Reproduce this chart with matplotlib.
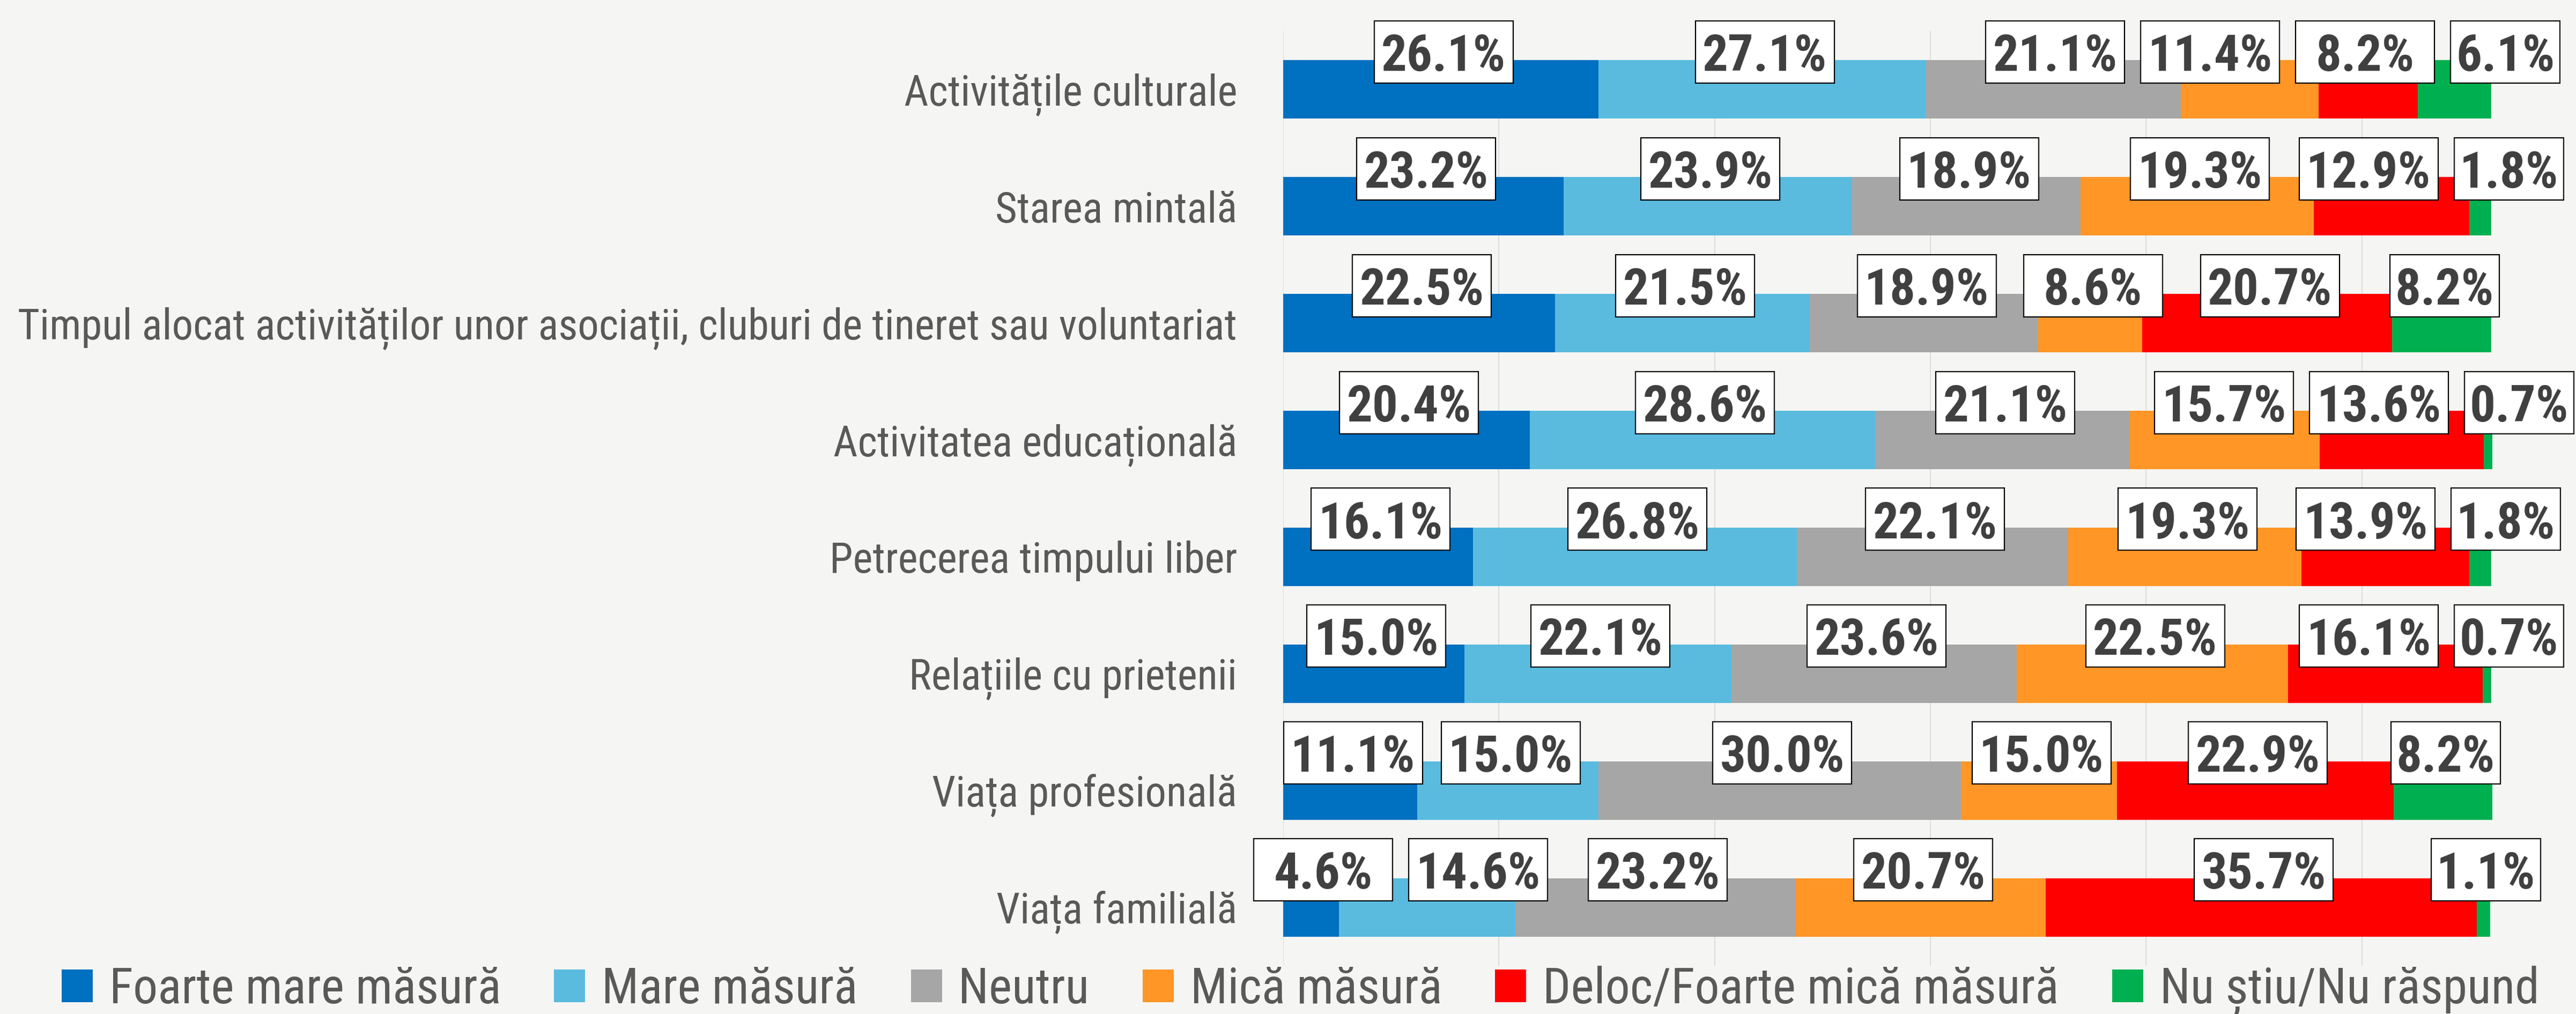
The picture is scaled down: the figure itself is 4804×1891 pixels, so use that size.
import numpy as np
import matplotlib
matplotlib.use("Agg")
import matplotlib.pyplot as plt
from matplotlib.patches import Rectangle, Patch
from matplotlib import font_manager as fm

# ---------------- data ----------------
categories = [
    "Activitățile culturale",
    "Starea mintală",
    "Timpul alocat activităților unor asociații, cluburi de tineret sau voluntariat",
    "Activitatea educațională",
    "Petrecerea timpului liber",
    "Relațiile cu prietenii",
    "Viața profesională",
    "Viața familială",
]
series_names = ["Foarte mare măsură", "Mare măsură", "Neutru", "Mică măsură",
                "Deloc/Foarte mică măsură", "Nu știu/Nu răspund"]

# bar lengths (share of respondents, %), as drawn
foarte_mare = [26.1, 23.2, 22.5, 20.4, 15.7, 15.0, 11.1, 4.6]
mare        = [27.1, 23.9, 21.1, 28.6, 26.8, 22.1, 15.0, 14.6]
neutru      = [21.1, 18.9, 18.9, 21.1, 22.5, 23.6, 30.0, 23.2]
mica        = [11.4, 19.3, 8.6, 15.7, 19.3, 22.5, 12.9, 20.7]
deloc       = [8.2, 12.9, 20.7, 13.6, 13.9, 16.1, 22.9, 35.7]
nu_stiu     = [6.1, 1.8, 8.2, 0.7, 1.8, 0.7, 8.2, 1.1]

# data-label texts as printed on the chart
lbl_foarte_mare = ["26.1%", "23.2%", "22.5%", "20.4%", "16.1%", "15.0%", "11.1%", "4.6%"]
lbl_mare        = ["27.1%", "23.9%", "21.5%", "28.6%", "26.8%", "22.1%", "15.0%", "14.6%"]
lbl_neutru      = ["21.1%", "18.9%", "18.9%", "21.1%", "22.1%", "23.6%", "30.0%", "23.2%"]
lbl_mica        = ["11.4%", "19.3%", "8.6%", "15.7%", "19.3%", "22.5%", "15.0%", "20.7%"]
lbl_deloc       = ["8.2%", "12.9%", "20.7%", "13.6%", "13.9%", "16.1%", "22.9%", "35.7%"]
lbl_nu_stiu     = ["6.1%", "1.8%", "8.2%", "0.7%", "1.8%", "0.7%", "8.2%", "1.1%"]

n_respondents = 280
grid_step_count = 50

series = [foarte_mare, mare, neutru, mica, deloc, nu_stiu]
labels = [lbl_foarte_mare, lbl_mare, lbl_neutru, lbl_mica, lbl_deloc, lbl_nu_stiu]
colors = ["#0070C0", "#5ABBDF", "#A6A6A6", "#FF9626", "#FF0000", "#00B050"]

# ---------------- fonts ----------------
FALLBACK = ["Roboto", "DejaVu Sans"]
COND_STRETCH = ("condensed", "semi-condensed", "extra-condensed", "ultra-condensed")
FAMILY_PREF = ["Liberation Sans Narrow", "Roboto Condensed", "Open Sans Condensed",
               "Open Sans", "Noto Sans", "Lato", "Inter", "Roboto"]


def _wnum(w):
    if isinstance(w, (int, float)):
        return int(w)
    return {"light": 300, "normal": 400, "regular": 400, "book": 400, "medium": 500,
            "semibold": 600, "demibold": 600, "bold": 700, "heavy": 800,
            "black": 900}.get(str(w).lower(), 400)


def pick_condensed(bold):
    best = None
    for f in fm.fontManager.ttflist:
        nm = f.name
        low = nm.lower() + " " + f.fname.lower()
        if "mono" in low or "serif" in nm.lower() or "cjk" in low or "dejavu" in low:
            continue
        cond = (f.stretch in COND_STRETCH) or ("narrow" in low) or ("condensed" in low)
        if not cond or f.style != "normal":
            continue
        w = _wnum(f.weight)
        target = 700 if bold else 400
        fam_rank = next((k for k, p in enumerate(FAMILY_PREF) if nm.startswith(p)), len(FAMILY_PREF))
        st_rank = 0 if (f.stretch == "condensed" or "narrow" in low) else 1
        score = (fam_rank, st_rank, abs(w - target))
        if best is None or score < best[0]:
            best = (score, f.fname)
    return best[1] if best else None


cond_reg = pick_condensed(False)
cond_bold = pick_condensed(True)


def fprops(bold=False, size=10):
    path = cond_bold if bold else cond_reg
    if path:
        return fm.FontProperties(fname=path, size=size)
    return fm.FontProperties(family=FALLBACK, weight="bold" if bold else "normal", size=size)


# ---------------- styling ----------------
BG = "#F5F5F3"
FIG_W, FIG_H, DPI = 4804, 1891, 100
CAT_COLOR = "#595959"
VAL_COLOR = "#404040"

fig = plt.figure(figsize=(FIG_W / DPI, FIG_H / DPI), dpi=DPI, facecolor=BG)
renderer = fig.canvas.get_renderer()


def fit_size(text, target_px, bold=False, base=40.0):
    t = fig.text(0, 0, text, fontproperties=fprops(bold, base))
    w = t.get_window_extent(renderer).width
    t.remove()
    return base * target_px / w


ax_left_px, ax_top_px, ax_bot_px = 2393, 58, 1801
ax = fig.add_axes([ax_left_px / FIG_W, 1 - ax_bot_px / FIG_H,
                   1 - ax_left_px / FIG_W, (ax_bot_px - ax_top_px) / FIG_H])
ax.set_facecolor(BG)

px_per_pct = 2253 / 100.0
xmax = (FIG_W - ax_left_px) / px_per_pct
ax.set_xlim(0, xmax)
ax.set_ylim(len(categories) - 0.5, -0.5)
row_px = (ax_bot_px - ax_top_px) / len(categories)

y = np.arange(len(categories))
left = np.zeros(len(categories))
for vals, col, name in zip(series, colors, series_names):
    ax.barh(y, vals, left=left, height=0.5, color=col, linewidth=0, label=name, zorder=2)
    left = left + np.array(vals)

# grid every 50 respondents
step = 100.0 * grid_step_count / n_respondents
ax.set_xticks(np.arange(0, xmax + 0.01, step))
ax.xaxis.grid(True, color="#DCDCDC", linewidth=1.4)
ax.set_axisbelow(True)
ax.tick_params(axis="x", length=0, labelbottom=False)
for s in ax.spines.values():
    s.set_visible(False)

# category labels
cat_size = fit_size(max(categories, key=len), 2271)
ax.set_yticks(y)
ax.set_yticklabels(categories, color=CAT_COLOR)
for t in ax.get_yticklabels():
    t.set_fontproperties(fprops(False, cat_size))
ax.tick_params(axis="y", length=0, pad=86 * 72 / DPI)

# value labels in boxes
val_size = fit_size("26.1%", 232, bold=True)
val_px = val_size * DPI / 72
box_w_px = [259, 259, 259, 259, 259, 204]
box_h = 116 / row_px
gap = 30 / px_per_pct
lo = -55 / px_per_pct
hi = xmax - 4 / px_per_pct
y_off = 70 / row_px


def spread(centers, widths):
    c = list(centers)
    n = len(c)
    for _ in range(2000):
        for k in range(n):
            if c[k] - widths[k] / 2 < lo:
                c[k] = lo + widths[k] / 2
            if c[k] + widths[k] / 2 > hi:
                c[k] = hi - widths[k] / 2
        moved = False
        for k in range(n - 1):
            need = (widths[k] + widths[k + 1]) / 2 + gap
            d = c[k + 1] - c[k]
            if d < need - 1e-6:
                sh = (need - d) / 2
                c[k] -= sh
                c[k + 1] += sh
                moved = True
        if not moved:
            break
    return c


for i in range(len(categories)):
    starts = np.cumsum([0] + [s[i] for s in series[:-1]])
    centers = [starts[j] + series[j][i] / 2 + 5 / px_per_pct for j in range(len(series))]
    widths = [w / px_per_pct for w in box_w_px]
    cs = spread(centers, widths)
    cy = i - y_off
    for j, cx in enumerate(cs):
        ax.add_patch(Rectangle((cx - widths[j] / 2, cy - box_h / 2), widths[j], box_h,
                               facecolor="white", edgecolor="black", linewidth=1.6,
                               clip_on=False, zorder=5))
        ax.text(cx, cy + 0.37 * val_px / row_px, labels[j][i], ha="center", va="baseline",
                fontproperties=fprops(True, val_size), color=VAL_COLOR,
                zorder=6, clip_on=False)

# legend
leg_size = fit_size(series_names[0], 730)
lp = leg_size * DPI / 72
handles = [Patch(facecolor=c, edgecolor="none", label=n) for c, n in zip(colors, series_names)]
fig.legend(handles=handles, loc="center", bbox_to_anchor=(2425 / FIG_W, 1 - 1848 / FIG_H),
           ncol=6, frameon=False, prop=fprops(False, leg_size),
           labelcolor=CAT_COLOR, handlelength=58 / lp, handleheight=58 / lp,
           handletextpad=31 / lp, columnspacing=99 / lp, borderpad=0, borderaxespad=0)

fig.savefig("out.png", dpi=DPI, facecolor=BG)
